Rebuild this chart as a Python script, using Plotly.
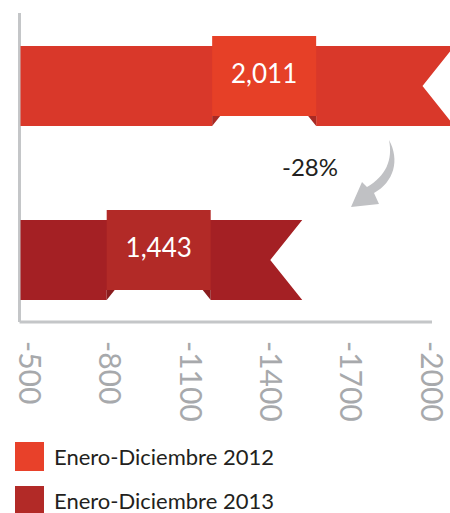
import plotly.graph_objects as go

# ---- data ----
periods = ["Enero-Diciembre 2012", "Enero-Diciembre 2013"]
values = [2011, 1443]
tick_values = [500, 800, 1100, 1400, 1700, 2000]
tick_labels = ["-500", "-800", "-1100", "-1400", "-1700", "-2000"]

# ---- style ----
bar_colors = ["#d9382a", "#a42024"]
box_colors = ["#e64027", "#b22a27"]
fold_colors = ["#a82a24", "#8a1c1e"]
legend_colors = ["#e8412a", "#b22a27"]
label_frac = [0.59, 0.53]
FONT = "Lato"

W, H = 450, 513
ML, MR, MT, MB = 20, 0, 0, 191
PW, PH = W - ML - MR, H - MT - MB
XMIN, XMAX = 468.3, 2072.6
YTOP, YBOT = -0.4943, 1.3563
ux = (XMAX - XMIN) / PW   # data units per pixel
uy = (YBOT - YTOP) / PH

def paper_x(p):
    return (p - ML) / PW

def paper_y(p):
    return (MT + PH - p) / PH

fig = go.Figure()

half = 40 * uy
lift = 10 * uy
for i, (name, v) in enumerate(zip(periods, values)):
    yc = i
    top, bot = yc - half, yc + half
    tip = v + 21 * ux
    notch = v - 11 * ux
    x0 = XMIN + 0.5 * ux
    bw = 104 * ux
    bc = x0 + label_frac[i] * (v - x0)
    bx0, bx1 = bc - bw / 2, bc + bw / 2
    # ribbon body
    fig.add_trace(go.Scatter(
        x=[x0, tip, notch, tip, bx1, bx1, bx0, bx0, x0, x0],
        y=[top, top, yc, bot, bot, bot - lift, bot - lift, bot, bot, top],
        fill="toself", fillcolor=bar_colors[i], mode="lines", line=dict(width=0),
        hoverinfo="skip", showlegend=False))
    # folds
    f = 8 * ux
    fig.add_trace(go.Scatter(
        x=[bx0, bx0 + f, bx0, bx0, None, bx1, bx1 - f, bx1, bx1],
        y=[bot - lift, bot - lift, bot, bot - lift, None, bot - lift, bot - lift, bot, bot - lift],
        fill="toself", fillcolor=fold_colors[i], mode="lines", line=dict(width=0),
        hoverinfo="skip", showlegend=False))
    # raised label box
    fig.add_trace(go.Scatter(
        x=[bx0, bx1, bx1, bx0, bx0],
        y=[top - lift, top - lift, bot - lift, bot - lift, top - lift],
        fill="toself", fillcolor=box_colors[i], mode="lines", line=dict(width=0),
        hoverinfo="skip", showlegend=False))
    fig.add_trace(go.Scatter(
        x=[bc], y=[yc - lift], mode="text", text=[f"{v:,}"],
        textfont=dict(family=FONT, size=26, color="white"),
        textposition="middle center", hoverinfo="skip", showlegend=False))

shapes = []
# axis lines
shapes.append(dict(type="line", xref="paper", yref="paper",
                   x0=paper_x(19.5), x1=paper_x(19.5), y0=paper_y(13), y1=paper_y(322),
                   line=dict(color="#c4c6c8", width=3), layer="below"))
shapes.append(dict(type="line", xref="paper", yref="paper",
                   x0=paper_x(19.5), x1=paper_x(432), y0=paper_y(322), y1=paper_y(322),
                   line=dict(color="#c4c6c8", width=3), layer="below"))

# curved arrow (decoration)
pts = [("M", [(389, 140)]), ("C", [(400, 160), (394, 182), (374, 193)]),
       ("L", [(379, 204)]), ("L", [(351, 207)]), ("L", [(362, 182)]),
       ("L", [(367, 187)]), ("C", [(386, 176), (393, 160), (389, 140)])]
path = ""
for cmd, ps in pts:
    path += cmd + " " + " ".join(f"{paper_x(a):.5f},{paper_y(b):.5f}" for a, b in ps) + " "
path += "Z"
shapes.append(dict(type="path", xref="paper", yref="paper", path=path,
                   fillcolor="#c0c1c4", line=dict(width=0)))

annotations = []
change = (values[1] - values[0]) / values[0] * 100
annotations.append(dict(xref="paper", yref="paper", x=paper_x(310), y=paper_y(166),
                        xanchor="center", yanchor="middle",
                        text=f"{change:.0f}%", showarrow=False,
                        font=dict(family=FONT, size=24, color="#231f20")))

# legend
for i, name in enumerate(periods):
    ytop_px = 442 + i * 44
    shapes.append(dict(type="rect", xref="paper", yref="paper",
                       x0=paper_x(15), x1=paper_x(44), y0=paper_y(ytop_px), y1=paper_y(ytop_px + 29),
                       fillcolor=legend_colors[i], line=dict(width=0)))
    annotations.append(dict(xref="paper", yref="paper", x=paper_x(52), y=paper_y(ytop_px + 14),
                            xanchor="left", yanchor="middle", text=name, showarrow=False,
                            font=dict(family=FONT, size=22, color="#231f20")))

fig.update_layout(
    width=W, height=H, margin=dict(l=ML, r=MR, t=MT, b=MB, autoexpand=False),
    paper_bgcolor="white", plot_bgcolor="white",
    shapes=shapes, annotations=annotations, showlegend=False,
    xaxis=dict(range=[XMIN, XMAX], tickvals=tick_values, ticktext=tick_labels,
               tickangle=90, ticks="outside", ticklen=12, tickcolor="rgba(0,0,0,0)",
               tickfont=dict(family=FONT, size=30, color="#a7a9ac"),
               ticklabeloverflow="allow",
               showgrid=False, zeroline=False, showline=False, automargin=False),
    yaxis=dict(range=[YBOT, YTOP], visible=False, showgrid=False, zeroline=False),
)

fig.write_html("out.html", config={"displayModeBar": False},
               post_script="document.body.style.margin='0';")
